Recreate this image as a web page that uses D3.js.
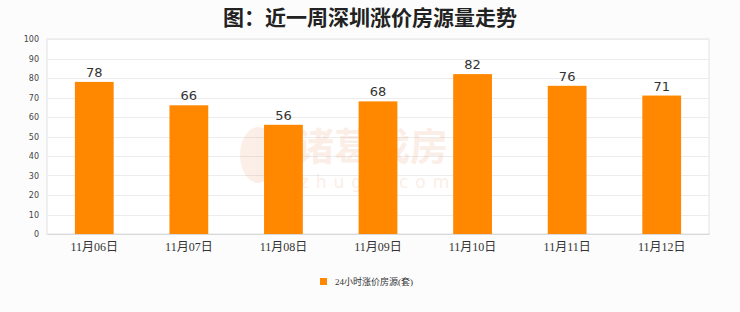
<!DOCTYPE html>
<html>
<head>
<meta charset="utf-8">
<script src="https://cdn.jsdelivr.net/npm/d3@7"></script>
<style>
  body { margin: 0; background: #fcfcfc; }
  svg { display: block; }
</style>
</head>
<body>
<svg id="chart" width="740" height="312"></svg>
<script>
// chart data
var dates = ["11月06日", "11月07日", "11月08日", "11月09日", "11月10日", "11月11日", "11月12日"];
var counts = [78, 66, 56, 68, 82, 76, 71];
var yTicks = [0, 10, 20, 30, 40, 50, 60, 70, 80, 90, 100];
var title = "图：近一周深圳涨价房源量走势";
var seriesName = "24小时涨价房源(套)";

var svg = d3.select("#chart")
  , padLeft = 47, padRight = 709, padTop = 39, padBottom = 234
  , barColor = "#ff8800";

var x = d3.scaleBand().domain(dates).range([padLeft, padRight]).paddingInner(0.59).paddingOuter(0.295);
var y = d3.scaleLinear().domain([0, 100]).range([padBottom, padTop]);

svg.append("rect").attr("width", 740).attr("height", 312).attr("fill", "#fcfcfc");

// title
svg.append("text")
  .attr("x", 370).attr("y", 25)
  .attr("text-anchor", "middle")
  .attr("font-family", "Noto Sans CJK SC")
  .attr("font-weight", "bold")
  .attr("font-size", 21)
  .attr("fill", "#222")
  .text(title);

// plot background + grid
svg.append("rect")
  .attr("x", padLeft).attr("y", padTop)
  .attr("width", padRight - padLeft).attr("height", padBottom - padTop)
  .attr("fill", "#fff")
  .attr("stroke", "#e2e2e2");

svg.append("g").selectAll("line")
  .data(yTicks)
  .enter().append("line")
  .attr("x1", padLeft).attr("x2", padRight)
  .attr("y1", function(d) { return Math.round(y(d)) + 0.5 })
  .attr("y2", function(d) { return Math.round(y(d)) + 0.5 })
  .attr("stroke", "#ececec");

// watermark (faint, behind bars)
var wm = svg.append("g").attr("opacity", 0.13);
wm.append("text")
  .attr("x", 372).attr("y", 160)
  .attr("text-anchor", "middle")
  .attr("font-family", "Noto Sans CJK SC")
  .attr("font-weight", "bold")
  .attr("font-size", 38)
  .attr("fill", "#e8804a")
  .text("诸葛找房");
wm.append("text")
  .attr("x", 378).attr("y", 188)
  .attr("text-anchor", "middle")
  .attr("font-family", "DejaVu Sans")
  .attr("font-size", 17)
  .attr("letter-spacing", 7)
  .attr("fill", "#e8804a")
  .text("zhuge.com");
wm.append("ellipse")
  .attr("cx", 258).attr("cy", 155).attr("rx", 18).attr("ry", 28)
  .attr("fill", "#e8804a");

// y axis
var yAxis = svg.append("g")
  .attr("transform", "translate(" + padLeft + ",0)")
  .call(d3.axisLeft(y).tickValues(yTicks).tickSize(0).tickPadding(8));
yAxis.select(".domain").remove();
yAxis.selectAll("text")
  .attr("font-family", "DejaVu Sans")
  .attr("font-size", 8)
  .attr("fill", "#444");

// x axis
var xAxis = svg.append("g")
  .attr("transform", "translate(0," + padBottom + ")")
  .call(d3.axisBottom(x).tickSize(0).tickPadding(8));
xAxis.select(".domain").attr("stroke", "#d8d8d8");
xAxis.selectAll("text")
  .attr("font-family", "Liberation Serif, Noto Sans CJK SC")
  .attr("font-size", 12)
  .attr("fill", "#333");

// bars
svg.append("g").selectAll("rect")
  .data(counts)
  .enter().append("rect")
  .attr("x", function(d, i) { return x(dates[i]) })
  .attr("y", function(d) { return y(d) })
  .attr("width", x.bandwidth())
  .attr("height", function(d) { return padBottom - y(d) })
  .attr("fill", barColor);

// value labels
svg.append("g").selectAll("text")
  .data(counts)
  .enter().append("text")
  .attr("x", function(d, i) { return x(dates[i]) + x.bandwidth() / 2 })
  .attr("y", function(d) { return y(d) - 5 })
  .attr("text-anchor", "middle")
  .attr("font-family", "DejaVu Sans")
  .attr("font-size", 13)
  .attr("fill", "#333")
  .text(function(d) { return d });

// legend
var lg = svg.append("g").attr("transform", "translate(320,276)");
lg.append("rect").attr("x", 0).attr("y", 2).attr("width", 7).attr("height", 7).attr("fill", barColor);
lg.append("text")
  .attr("x", 15).attr("y", 9)
  .attr("font-family", "Liberation Serif, Noto Sans CJK SC")
  .attr("font-size", 9)
  .attr("fill", "#333")
  .text(seriesName);
</script>
</body>
</html>
